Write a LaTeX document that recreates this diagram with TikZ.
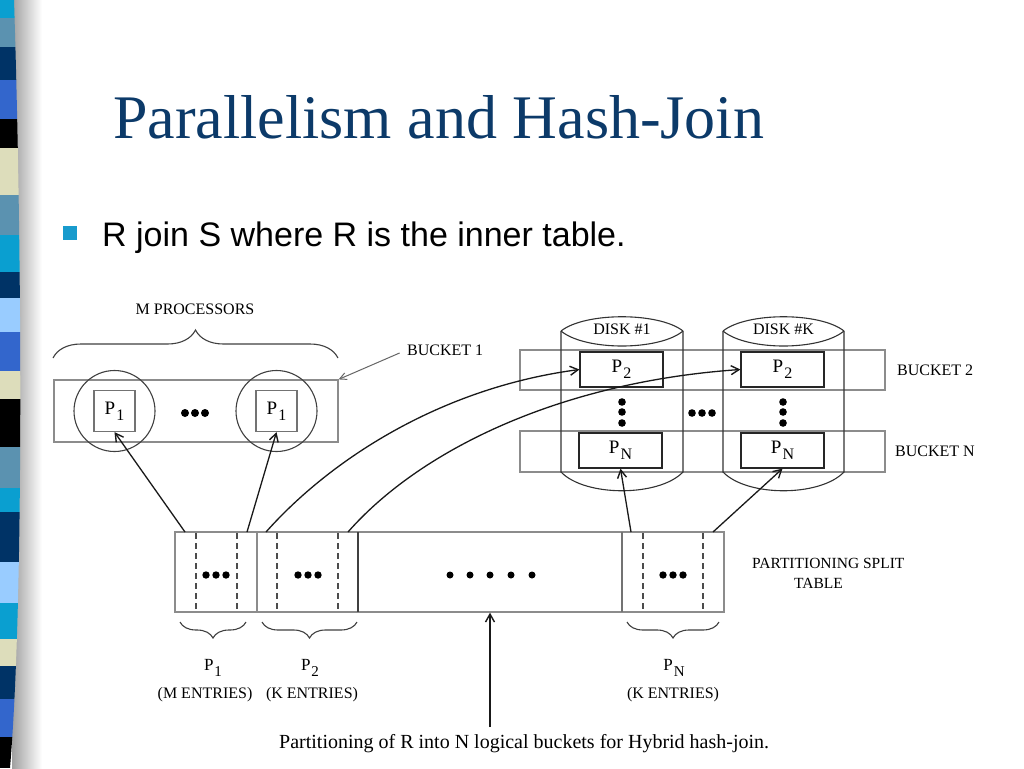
\documentclass[tikz,border=0pt]{standalone}
\usepackage{fontspec}
\setmainfont{Liberation Serif}
\newfontfamily\arialfont{Liberation Sans}
\usetikzlibrary{arrows.meta,decorations.pathreplacing,calc}
\definecolor{titleblue}{RGB}{12,58,105}
\definecolor{bulletblue}{RGB}{24,155,205}
\definecolor{scyan}{RGB}{10,159,208}
\definecolor{ssteel}{RGB}{91,146,176}
\definecolor{snavy}{RGB}{0,51,102}
\definecolor{sroyal}{RGB}{51,102,204}
\definecolor{scream}{RGB}{221,221,187}
\definecolor{slight}{RGB}{153,204,255}
\definecolor{sblack}{RGB}{0,0,0}
\definecolor{shadowgray}{RGB}{160,160,160}
\definecolor{boxgray}{RGB}{140,140,140}
\newcommand{\Psb}[1]{P\kern1pt\raisebox{-6pt}{\fontsize{16}{16}\selectfont #1}}
\newcommand{\Psm}[1]{P\kern1pt\raisebox{-6pt}{\fontsize{15}{15}\selectfont #1}}
\tikzset{
  gbox/.style={draw=boxgray, line width=1.2pt, inner sep=0pt},
  pbox/.style={draw=black!85, line width=1.2pt, inner sep=0pt, minimum width=83pt, minimum height=35pt, font=\fontsize{19}{19}\selectfont},
  sqbox/.style={draw=black!55, line width=1.2pt, inner sep=0pt, minimum size=41pt, font=\fontsize{19}{19}\selectfont},
  proc/.style={circle, draw=black!75, line width=1.1pt, minimum size=81pt, inner sep=0pt},
  lbl/.style={inner sep=0pt, font=\fontsize{16}{16}\selectfont},
  arr/.style={-{Straight Barb[length=8pt,width=9pt,line width=1.4pt]}, line width=1.3pt, black!90},
  garr/.style={-{Straight Barb[length=7pt,width=7pt]}, line width=1pt, black!60},
  diskline/.style={draw=black!80, line width=1.1pt},
  dashv/.style={draw=black!70, line width=1.1pt, dash pattern=on 6pt off 4pt},
  bracel/.style={draw=black!75, line width=1.1pt, decorate}
}
\begin{document}
\begin{tikzpicture}[x=1pt,y=-1pt]
\useasboundingbox (0,0) rectangle (1024,768);
\fill[white] (0,0) rectangle (1024,768);
% left stripe bar
\shade[left color=shadowgray, right color=white] (12,0) rectangle (42,768);
\begin{scope}
\clip (0,0) -- (14,0) .. controls (22,250) and (24,600) .. (10,768) -- (0,768) -- cycle;
\foreach \a/\b/\c in {0/18/scyan,18/47/ssteel,47/80/snavy,80/119/sroyal,119/148/sblack,148/195/scream,195/235/ssteel,235/272/scyan,272/298/snavy,298/332/slight,332/371/sroyal,371/399/scream,399/447/sblack,447/488/ssteel,488/512/scyan,512/562/snavy,562/603/slight,603/639/scyan,639/666/scream,666/699/snavy,699/737/sroyal,737/768/sblack}
  \fill[\c] (0,\a) rectangle (30,\b);
\end{scope}
% title and bullet
\node[anchor=base west, inner sep=0pt, font=\fontsize{62}{70}\selectfont, text=titleblue] (title) at (113,138) {Parallelism and Hash-Join};
\node[fill=bulletblue, minimum size=14pt, inner sep=0pt] (bul) at (70,233) {};
\node[anchor=base west, inner sep=0pt, font=\arialfont\fontsize{34}{40}\selectfont] (btxt) at (102,246) {R join S where R is the inner table.};
% processors
\node[lbl, anchor=base] (mproc) at (195,314) {M PROCESSORS};
\draw[bracel, decoration={brace, amplitude=28pt}] (53,358) -- (338,358);
\node[gbox, minimum width=284pt, minimum height=62pt] (b1) at (196,411) {};
\node[proc] (c1) at (114.5,411) {};
\node[proc] (c2) at (276.5,411) {};
\node[sqbox] (p1a) at (114.5,411) {\Psb{1}};
\node[sqbox] (p1b) at (276.5,411) {\Psb{1}};
\foreach \x in {185,195,205} \fill (\x,413) circle (4);
\node[lbl, anchor=base west] (b1lbl) at (407,355) {BUCKET 1};
\draw[garr, shorten <=8pt] (b1lbl.west) -- (b1.north east);
% buckets 2 and N
\node[gbox, minimum width=365pt, minimum height=40pt] (b2) at (702.5,370) {};
\node[gbox, minimum width=365pt, minimum height=41pt] (bn) at (702.5,451.5) {};
\node[lbl, anchor=base west] (b2lbl) at (897,375) {BUCKET 2};
\node[lbl, anchor=base west] (bnlbl) at (895,456) {BUCKET N};
% disks
\foreach \l/\r in {561/683,723/844}{
  \pgfmathsetmacro{\la}{\l+24}\pgfmathsetmacro{\ra}{\r-24}
  \draw[diskline] (\l,331) .. controls (\la,312) and (\ra,312) .. (\r,331);
  \draw[diskline] (\l,331) .. controls (\la,351) and (\ra,351) .. (\r,331);
  \draw[diskline] (\l,331) -- (\l,472) .. controls (\la,497) and (\ra,497) .. (\r,472) -- (\r,331);
}
\node[lbl, anchor=base] (disk1) at (622,334) {DISK \#1};
\node[lbl, anchor=base] (diskk) at (783.5,334) {DISK \#K};
\node[pbox, fill=white] (d1p2) at (621.5,369.5) {\Psb{2}};
\node[pbox, fill=white] (d1pn) at (620.5,450.5) {\Psb{N}};
\node[pbox, fill=white] (dkp2) at (782.5,369.5) {\Psb{2}};
\node[pbox, fill=white] (dkpn) at (782.5,450.5) {\Psb{N}};
\foreach \y in {402,412,423} {\fill (622,\y) circle (3.8); \fill (783,\y) circle (3.8);}
\foreach \x in {692,702,712} \fill (\x,413) circle (3.8);
% partitioning split table
\node[draw=boxgray, line width=1.3pt, minimum width=549pt, minimum height=80pt, inner sep=0pt] (tab) at (449.5,572) {};
\draw[draw=boxgray, line width=1.2pt] (257,532) -- (257,612);
\draw[draw=black!75, line width=1.2pt] (358,532) -- (358,612);
\draw[draw=black!55, line width=1.2pt] (622,532) -- (622,612);
\foreach \x in {196,237,277,338,643,703} \draw[dashv] (\x,533) -- (\x,611);
\foreach \x in {206,216,226,298,308,318,663,673,683} \fill (\x,575) circle (3.7);
\foreach \x in {450,470,490,511,532} \fill (\x,575) circle (3.5);
\node[inner sep=0pt, font=\fontsize{15.5}{15.5}\selectfont, anchor=base west] (pst1) at (752,568) {PARTITIONING SPLIT};
\node[inner sep=0pt, font=\fontsize{15.5}{15.5}\selectfont, anchor=base west] (pst2) at (794,588) {TABLE};
% braces under table
\draw[bracel, decoration={brace, mirror, amplitude=16pt}] (180,622) -- (246,622);
\draw[bracel, decoration={brace, mirror, amplitude=16pt}] (262,622) -- (357,622);
\draw[bracel, decoration={brace, mirror, amplitude=16pt}] (627,622) -- (719,622);
\node[lbl, anchor=base, font=\fontsize{17}{17}\selectfont] (l1) at (213,670) {\Psm{1}};
\node[lbl, anchor=base, font=\fontsize{17}{17}\selectfont] (l2) at (310,670) {\Psm{2}};
\node[lbl, anchor=base, font=\fontsize{17}{17}\selectfont] (ln) at (674,670) {\Psm{N}};
\node[lbl, anchor=base] (e1) at (205,698) {(M ENTRIES)};
\node[lbl, anchor=base] (e2) at (312,698) {(K ENTRIES)};
\node[lbl, anchor=base] (en) at (673,698) {(K ENTRIES)};
% arrows
\coordinate (s1) at (185,532);
\coordinate (s2) at (247,532);
\coordinate (s3) at (266,532);
\coordinate (s4) at (348,532);
\coordinate (s5) at (631,532);
\coordinate (s6) at (713,532);
\draw[arr] (s1) -- (p1a.south);
\draw[arr] (s2) -- (p1b.south);
\draw[arr] (s3) .. controls (330,460) and (440,388) .. (d1p2.west);
\draw[arr] (s4) .. controls (420,450) and (560,382) .. (dkp2.west);
\draw[arr] (s5) -- (d1pn.south);
\draw[arr] (s6) -- (dkpn.south);
\coordinate (upA) at (490,727);
\draw[arr, line width=1.6pt] (upA) -- (upA |- tab.south);
\node[anchor=base west, inner sep=0pt, font=\fontsize{20}{20}\selectfont] (cap) at (279,748) {Partitioning of R into N logical buckets for Hybrid hash-join.};
\end{tikzpicture}
\end{document}
